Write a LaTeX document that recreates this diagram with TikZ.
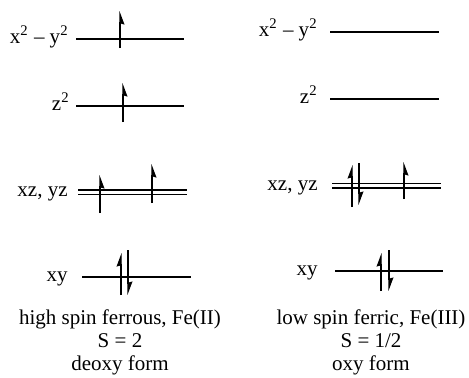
\documentclass[tikz,border=0pt]{standalone}
\usepackage{fontspec}
\setmainfont{Liberation Serif}
\usetikzlibrary{arrows.meta,positioning}

\tikzset{
  lvl/.style={line width=0.9pt},
  lbl/.style={anchor=mid east, inner sep=0pt, font=\rmfamily\fontsize{10.5}{11.5}\selectfont},
  captxt/.style={align=center, inner sep=0pt, font=\rmfamily\fontsize{10.5}{11.5}\selectfont},
  eup/.style={-{Stealth[right,length=6pt,width=4.4pt,inset=0.6pt]}, line width=0.55pt},
  epr/.style={-{Stealth[left,length=6pt,width=4.4pt,inset=0.6pt]}, line width=0.55pt}
}

\begin{document}
\begin{tikzpicture}[x=0.5pt, y=-0.5pt]
\useasboundingbox (0,0) rectangle (469,377);
% high spin ferrous
\node[lbl] (hsx) at (69,39) {x\textsuperscript{2} – y\textsuperscript{2}};
\node[lbl] (hsz) at (70,106) {z\textsuperscript{2}};
\node[lbl] (hsxz) at (68,192) {xz, yz};
\node[lbl] (hsxy) at (68,277) {xy};
\draw[lvl] (76,39) -- (184,39); \draw[lvl] (76,106) -- (184,106);
\draw[lvl] (78,190) -- (187,190); \draw[lvl] (78,194.5) -- (187,194.5);
\draw[lvl] (82,277) -- (191,277);
\draw[eup] (120,48) -- (120,11); \draw[eup] (123,122) -- (123,83);
\draw[eup] (100,213) -- (100,175); \draw[eup] (152,203) -- (152,164);
\draw[epr] (121,295) -- (121,253); \draw[epr] (128,250) -- (128,295);
% low spin ferric
\node[lbl] (lsx) at (318,32) {x\textsuperscript{2} – y\textsuperscript{2}};
\node[lbl] (lsz) at (318,99) {z\textsuperscript{2}};
\node[lbl] (lsxz) at (318,186) {xz, yz};
\node[lbl] (lsxy) at (318,271) {xy};
\draw[lvl] (330,32) -- (439,32); \draw[lvl] (330,99) -- (439,99);
\draw[lvl] (332,183.5) -- (441,183.5); \draw[lvl] (332,188) -- (441,188);
\draw[lvl] (335,271) -- (443,271);
\draw[epr] (352,207) -- (352,165); \draw[epr] (359,163) -- (359,205);
\draw[eup] (404,199) -- (404,162);
\draw[epr] (381,291) -- (381,253); \draw[epr] (389,250) -- (389,291);
% captions
\node[captxt] (capL) at (120,342) {high spin ferrous, Fe(II)\\S = 2\\deoxy form};
\node[captxt] (capR) at (371,342) {low spin ferric, Fe(III)\\S = 1/2\\oxy form};
\end{tikzpicture}
\end{document}
